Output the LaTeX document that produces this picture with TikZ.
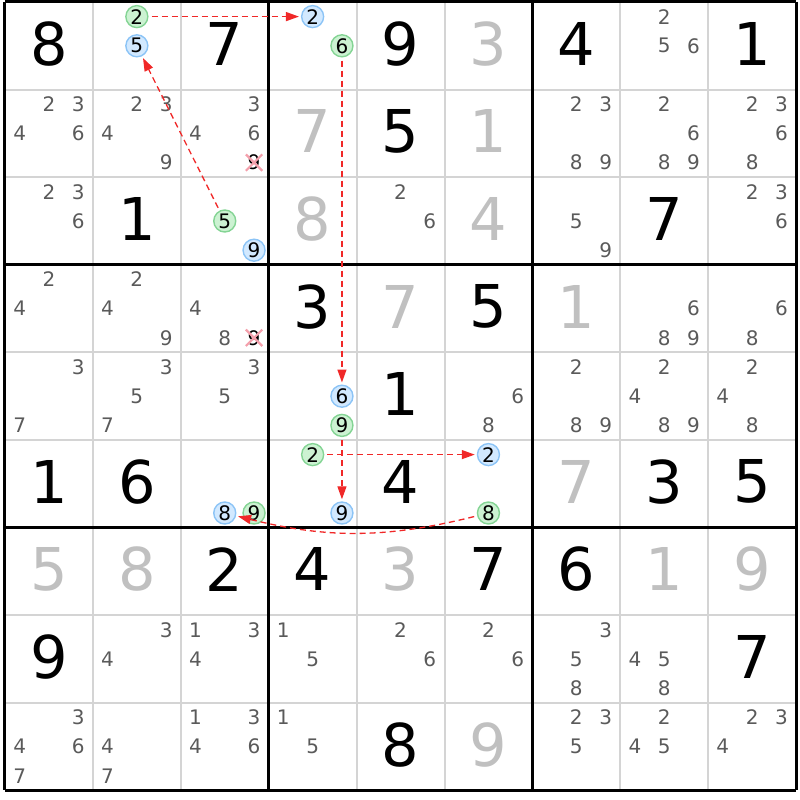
\documentclass[tikz,border=0pt]{standalone}
\usepackage{fontspec}
\setmainfont{DejaVu Sans}
\usetikzlibrary{arrows.meta}
\definecolor{candgray}{HTML}{5A5A5A}
\definecolor{solvedgray}{HTML}{C0C0C0}
\definecolor{gridgray}{HTML}{D4D4D4}
\definecolor{onfill}{HTML}{D2E9FF}
\definecolor{ondraw}{HTML}{8CC4F6}
\definecolor{offfill}{HTML}{CCF2D2}
\definecolor{offdraw}{HTML}{84D494}
\definecolor{linkred}{HTML}{F02828}
\definecolor{strikepink}{HTML}{F4A0AC}
\newcommand{\bigdigit}{\fontsize{59pt}{59pt}\selectfont}
\newcommand{\smalldigit}{\fontsize{20pt}{20pt}\selectfont}
\newcommand{\cand}[4][cand]{%
  \pgfmathsetmacro{\candx}{#3-1+(mod(#4-1,3)+0.5)/3}%
  \pgfmathsetmacro{\candy}{#2-1+(div(#4-1,3)+0.5)/3}%
  \node[#1] (n#2#3#4) at (\candx,\candy) {#4};%
}
\tikzset{
    given/.style={font=\bigdigit, text=black, inner sep=0pt, yshift=2pt},
    solved/.style={given, text=solvedgray},
    cand/.style={font=\smalldigit, text=candgray, inner sep=0pt, minimum size=16pt},
    oncand/.style={cand, circle, text=black, minimum size=22pt, line width=1.4pt, draw=ondraw, fill=onfill},
    offcand/.style={cand, circle, text=black, minimum size=22pt, line width=1.4pt, draw=offdraw, fill=offfill},
    struck/.style={cand, text=black},
    strike/.style={draw=strikepink, line width=2.2pt},
    thinline/.style={draw=gridgray, line width=2pt},
    boxline/.style={draw=black, line width=3pt},
    link/.style={draw=linkred, line width=1.3pt, dash pattern=on 6pt off 4pt,
        -{Triangle[length=13pt,width=9pt]}, shorten <=3pt, shorten >=2pt},
}

\begin{document}
\begin{tikzpicture}[x=87.9pt, y=-87.6pt]
\useasboundingbox (-5pt,2pt) rectangle (795pt,-798pt);
%GRID
\foreach \i in {1,2,4,5,7,8} {
    \draw [thinline] (\i,0)--(\i,9);
    \draw [thinline] (0,\i)--(9,\i);
}
\foreach \i in {0,3,6,9} {
    \draw [boxline] (\i,0)--(\i,9);
    \draw [boxline] (0,\i)--(9,\i);
}

%GIVENS
\foreach \rw/\cl/\dg in {1/1/8, 1/3/7, 1/5/9, 1/7/4, 1/9/1, 2/5/5, 3/2/1, 3/8/7,
    4/4/3, 4/6/5, 5/5/1, 6/1/1, 6/2/6, 6/5/4, 6/8/3, 6/9/5,
    7/3/2, 7/4/4, 7/6/7, 7/7/6, 8/1/9, 8/9/7, 9/5/8}
    \node [given] (g\rw\cl) at (\cl-0.5,\rw-0.5) {\dg};

%SOLVED
\foreach \rw/\cl/\dg in {1/6/3, 2/4/7, 2/6/1, 3/4/8, 3/6/4, 4/5/7, 4/7/1, 6/7/7,
    7/1/5, 7/2/8, 7/5/3, 7/8/1, 7/9/9, 9/6/9}
    \node [solved] (g\rw\cl) at (\cl-0.5,\rw-0.5) {\dg};

%CANDIDATES
\foreach \rw/\cl/\ds in {1/8/{2,5,6},
    2/1/{2,3,4,6}, 2/2/{2,3,4,9}, 2/3/{3,4,6}, 2/7/{2,3,8,9}, 2/8/{2,6,8,9}, 2/9/{2,3,6,8},
    3/1/{2,3,6}, 3/5/{2,6}, 3/7/{5,9}, 3/9/{2,3,6},
    4/1/{2,4}, 4/2/{2,4,9}, 4/3/{4,8}, 4/8/{6,8,9}, 4/9/{6,8},
    5/1/{3,7}, 5/2/{3,5,7}, 5/3/{3,5}, 5/6/{6,8}, 5/7/{2,8,9}, 5/8/{2,4,8,9}, 5/9/{2,4,8},
    8/2/{3,4}, 8/3/{1,3,4}, 8/4/{1,5}, 8/5/{2,6}, 8/6/{2,6}, 8/7/{3,5,8}, 8/8/{4,5,8},
    9/1/{3,4,6,7}, 9/2/{4,7}, 9/3/{1,3,4,6}, 9/4/{1,5}, 9/7/{2,3,5}, 9/8/{2,4,5}, 9/9/{2,3,4}}
    {\foreach \dg in \ds {\cand{\rw}{\cl}{\dg}}}

%ELIMINATED
\cand[struck]{2}{3}{9}
\draw [strike] (n239.south west)--(n239.north east) (n239.north west)--(n239.south east);
\cand[struck]{4}{3}{9}
\draw [strike] (n439.south west)--(n439.north east) (n439.north west)--(n439.south east);

%CHAIN
\cand[offcand]{1}{2}{2}
\cand[oncand]{1}{2}{5}
\cand[oncand]{1}{4}{2}
\cand[offcand]{1}{4}{6}
\cand[offcand]{3}{3}{5}
\cand[oncand]{3}{3}{9}
\cand[oncand]{5}{4}{6}
\cand[offcand]{5}{4}{9}
\cand[oncand]{6}{3}{8}
\cand[offcand]{6}{3}{9}
\cand[offcand]{6}{4}{2}
\cand[oncand]{6}{4}{9}
\cand[oncand]{6}{6}{2}
\cand[offcand]{6}{6}{8}

\draw [link] (n122)--(n142);
\draw [link] (n146)--(n546);
\draw [link] (n549)--(n649);
\draw [link] (n642)--(n662);
\draw [link] (n668) to[bend left=14] (n638);
\draw [link] (n335)--(n125);
\end{tikzpicture}
\end{document}
